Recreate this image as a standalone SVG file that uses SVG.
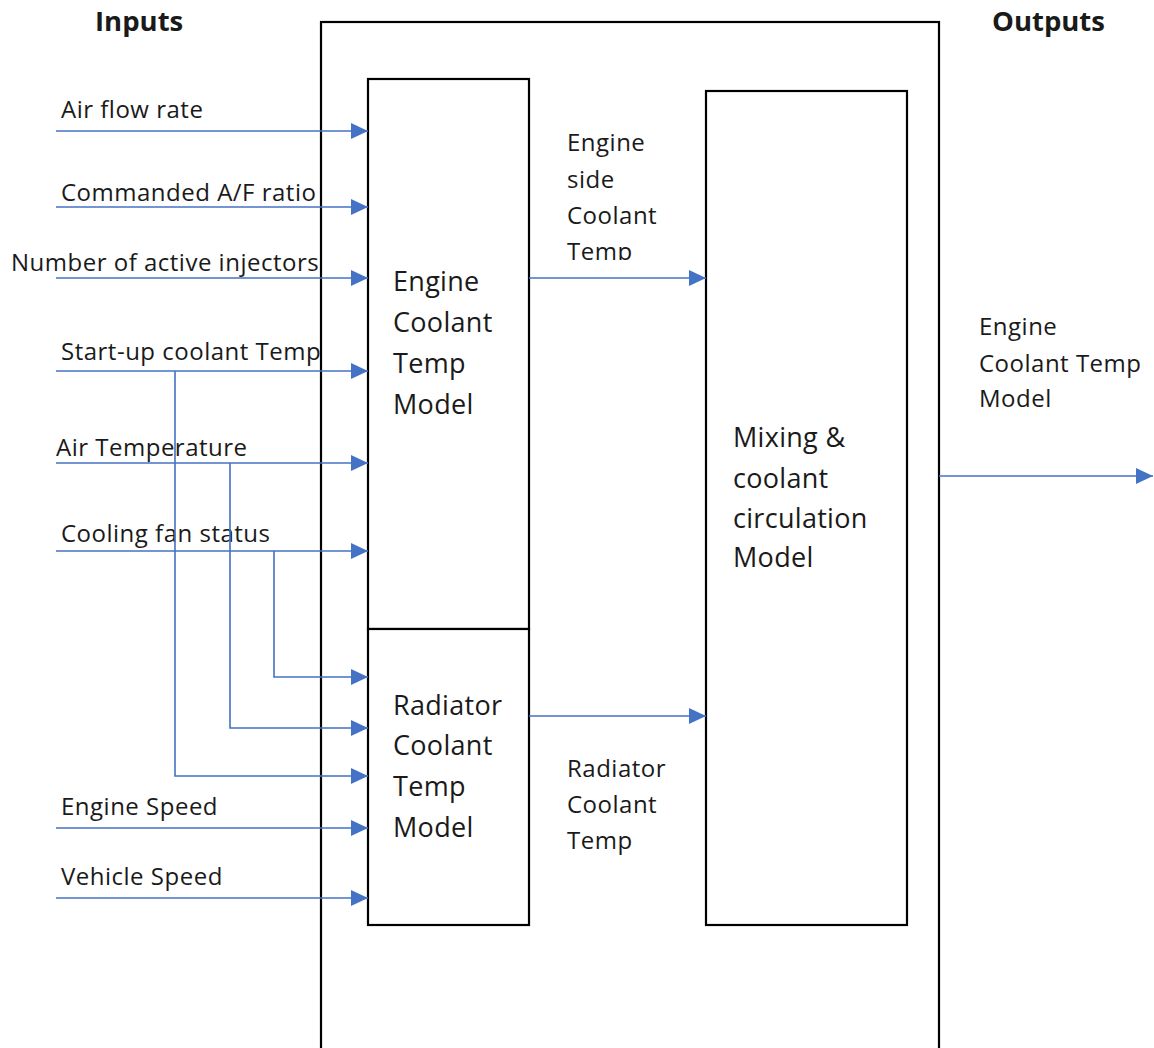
<svg xmlns="http://www.w3.org/2000/svg" width="1154" height="1048" viewBox="0 0 1154 1048">
  <style>
    .lbl { font-family: "Open Sans", Lato, "Liberation Sans", sans-serif; font-size: 24px; fill: #1a1a1a; letter-spacing: 0.5px; }
    .big { font-family: "Open Sans", Lato, "Liberation Sans", sans-serif; font-size: 27px; fill: #1a1a1a; letter-spacing: 0.3px; }
    .hdr { font-family: "Open Sans", Lato, "Liberation Sans", sans-serif; font-size: 27.5px; font-weight: bold; fill: #1a1a1a; }
    .box { fill: #ffffff; stroke: #000000; stroke-width: 2.2; }
    .arr { fill: none; stroke: #4472C4; stroke-width: 1.6; marker-end: url(#tip); }
  </style>
  <defs>
    <marker id="tip" markerWidth="17" markerHeight="16" refX="17" refY="8" orient="auto" markerUnits="userSpaceOnUse">
      <path d="M0,0 L17,8 L0,16 Z" fill="#4472C4"/>
    </marker>
    <clipPath id="sideClip"><rect x="540" y="100" width="160" height="160"/></clipPath>
  </defs>
  <rect width="1154" height="1048" fill="#ffffff"/>

  <!-- headings -->
  <text class="hdr" x="95" y="31">Inputs</text>
  <text class="hdr" x="992" y="31">Outputs</text>

  <!-- input labels -->
  <g id="input-labels">
    <text class="lbl" x="61" y="118">Air flow rate</text>
    <text class="lbl" x="61" y="201">Commanded A/F ratio</text>
    <text class="lbl" x="11" y="271">Number of active injectors</text>
    <text class="lbl" x="61" y="360">Start-up coolant Temp</text>
    <text class="lbl" x="56" y="456">Air Temperature</text>
    <text class="lbl" x="61" y="542">Cooling fan status</text>
    <text class="lbl" x="61" y="815">Engine Speed</text>
    <text class="lbl" x="61" y="885">Vehicle Speed</text>
  </g>

  <!-- system boundary (open at the bottom edge) -->
  <g id="system">
    <rect class="box" x="321" y="22" width="618" height="1040"/>
  </g>

  <g id="engine-model">
    <rect class="box" x="368" y="79" width="161" height="550"/>
    <text class="big" x="393" y="291">Engine</text>
    <text class="big" x="393" y="332">Coolant</text>
    <text class="big" x="393" y="373">Temp</text>
    <text class="big" x="393" y="414">Model</text>
  </g>

  <g id="radiator-model">
    <rect class="box" x="368" y="629" width="161" height="296"/>
    <text class="big" x="393" y="715">Radiator</text>
    <text class="big" x="393" y="755">Coolant</text>
    <text class="big" x="393" y="796">Temp</text>
    <text class="big" x="393" y="837">Model</text>
  </g>

  <g id="mixing-model">
    <rect class="box" x="706" y="91" width="201" height="834"/>
    <text class="big" x="733" y="447">Mixing &amp;</text>
    <text class="big" x="733" y="488">coolant</text>
    <text class="big" x="733" y="528">circulation</text>
    <text class="big" x="733" y="567">Model</text>
  </g>

  <!-- signal labels between blocks and at the output -->
  <g id="signal-labels">
    <g clip-path="url(#sideClip)">
      <text class="lbl" x="567" y="151">Engine</text>
      <text class="lbl" x="567" y="188">side</text>
      <text class="lbl" x="567" y="224">Coolant</text>
      <text class="lbl" x="567" y="260">Temp</text>
    </g>
    <text class="lbl" x="567" y="777">Radiator</text>
    <text class="lbl" x="567" y="813">Coolant</text>
    <text class="lbl" x="567" y="849">Temp</text>
    <text class="lbl" x="979" y="335">Engine</text>
    <text class="lbl" x="979" y="372">Coolant Temp</text>
    <text class="lbl" x="979" y="407">Model</text>
  </g>

  <!-- connectors -->
  <g id="connectors">
    <line class="arr" x1="56" y1="131" x2="368" y2="131"/>
    <line class="arr" x1="56" y1="207" x2="368" y2="207"/>
    <line class="arr" x1="56" y1="278" x2="368" y2="278"/>
    <line class="arr" x1="56" y1="371" x2="368" y2="371"/>
    <line class="arr" x1="56" y1="463" x2="368" y2="463"/>
    <line class="arr" x1="56" y1="551" x2="368" y2="551"/>
    <polyline class="arr" points="274,551 274,677 368,677"/>
    <polyline class="arr" points="230,463 230,728 368,728"/>
    <polyline class="arr" points="175,371 175,776 368,776"/>
    <line class="arr" x1="56" y1="828" x2="368" y2="828"/>
    <line class="arr" x1="56" y1="898" x2="368" y2="898"/>
    <line class="arr" x1="529" y1="278" x2="706" y2="278"/>
    <line class="arr" x1="529" y1="716" x2="706" y2="716"/>
    <line class="arr" x1="939" y1="476" x2="1153" y2="476"/>
  </g>
</svg>
